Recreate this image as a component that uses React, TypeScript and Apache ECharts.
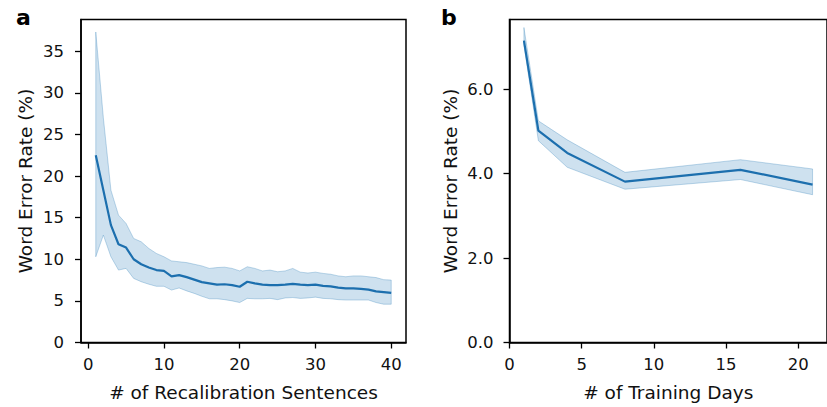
import React, { useEffect, useRef } from "react";
import * as echarts from "echarts";

// Panel a: recalibration sentences
const sentences = [1,2,3,4,5,6,7,8,9,10,11,12,13,14,15,16,17,18,19,20,21,22,23,24,25,26,27,28,29,30,31,32,33,34,35,36,37,38,39,40];
const werA = [22.5,18.3,14.1,11.8,11.4,10.0,9.4,9.0,8.7,8.6,7.95,8.1,7.85,7.55,7.25,7.1,6.95,7.0,6.9,6.7,7.3,7.1,6.95,6.9,6.9,6.95,7.05,6.95,6.9,6.95,6.8,6.75,6.6,6.5,6.5,6.45,6.35,6.15,6.05,5.95];
const upperA = [37.3,27.0,18.3,15.3,14.3,12.5,12.1,11.3,10.7,10.3,9.8,9.7,9.6,9.4,9.2,8.9,9.0,9.05,8.9,8.6,9.1,8.9,8.6,8.7,8.5,8.6,8.9,8.45,8.35,8.45,8.3,8.2,8.0,7.9,8.0,8.0,7.9,7.8,7.55,7.5];
const lowerA = [10.3,12.9,10.3,8.7,8.9,7.7,7.3,7.0,6.75,6.75,6.3,6.55,6.2,5.9,5.55,5.25,5.25,5.15,5.0,4.8,5.3,5.25,5.25,5.3,5.15,5.35,5.4,5.3,5.35,5.45,5.3,5.25,5.15,5.1,5.1,5.1,5.1,4.8,4.6,4.6];

// Panel b: training days
const days = [1, 2, 4, 8, 16, 21];
const werB = [7.15, 5.02, 4.49, 3.81, 4.09, 3.74];
const upperB = [7.46, 5.25, 4.80, 4.03, 4.33, 4.11];
const lowerB = [7.05, 4.78, 4.15, 3.63, 3.86, 3.50];

const xTicksA = [0, 10, 20, 30, 40];
const yTicksA = [0, 5, 10, 15, 20, 25, 30, 35];
const xTicksB = [0, 5, 10, 15, 20];
const yTicksB = [0, 2, 4, 6];

const FONT = "DejaVu Sans";
const LINE = "#1c6fae";
const BAND = "rgba(31,119,180,0.22)";
const BAND_EDGE = "rgba(31,119,180,0.28)";

function bandSeries(xs: number[], lo: number[], hi: number[], mean: number[], idx: number) {
  const data = xs.map((x, i) => [x, lo[i], hi[i]]);
  return [
    {
      type: "custom",
      xAxisIndex: idx,
      yAxisIndex: idx,
      data,
      silent: true,
      z: 1,
      clip: true,
      encode: { x: 0, y: [1, 2] },
      renderItem: (params: any, api: any) => {
        if (params.dataIndex !== 0) return null;
        const top = data.map((d) => api.coord([d[0], d[2]]));
        const bot = data.map((d) => api.coord([d[0], d[1]])).reverse();
        return {
          type: "polygon",
          shape: { points: top.concat(bot) },
          style: { fill: BAND, stroke: BAND_EDGE, lineWidth: 1 },
        };
      },
    },
    {
      type: "line",
      xAxisIndex: idx,
      yAxisIndex: idx,
      data: xs.map((x, i) => [x, mean[i]]),
      symbol: "none",
      lineStyle: { color: LINE, width: 2.2 },
      z: 3,
    },
  ];
}

const axisCommon = {
  axisLine: { show: true, onZero: false, lineStyle: { color: "#000", width: 1.5 } },
  axisTick: { show: true, length: 6, lineStyle: { color: "#000", width: 1.3 } },
  splitLine: { show: false },
  nameTextStyle: { fontFamily: FONT, fontSize: 18.5, color: "#111" },
};

const tickFont = { fontFamily: FONT, fontSize: 16.5, color: "#111" };

export default function App() {
  const ref = useRef<HTMLDivElement>(null);
  useEffect(() => {
    if (!ref.current) return;
    const chart = echarts.init(ref.current, undefined, { renderer: "svg" });
    chart.setOption({
      animation: false,
      backgroundColor: "#fff",
      grid: [
        { left: 81, top: 19.5, width: 325, height: 323, show: true, borderColor: "#000", borderWidth: 1.5, containLabel: false },
        { left: 509.5, top: 19.5, width: 326.5, height: 323, show: true, borderColor: "#000", borderWidth: 1.5, containLabel: false },
      ],
      graphic: [
        { type: "text", left: 16, top: 6, style: { text: "a", fontFamily: FONT, fontWeight: "bold", fontSize: 22, fill: "#000" } },
        { type: "text", left: 441, top: 6, style: { text: "b", fontFamily: FONT, fontWeight: "bold", fontSize: 22, fill: "#000" } },
      ],
      xAxis: [
        {
          ...axisCommon,
          type: "value",
          gridIndex: 0,
          min: -0.95,
          max: 41.95,
          name: "# of Recalibration Sentences",
          nameLocation: "middle",
          nameGap: 40,
          axisTick: { ...axisCommon.axisTick, customValues: xTicksA },
          axisLabel: { ...tickFont, customValues: xTicksA, margin: 13 },
        },
        {
          ...axisCommon,
          type: "value",
          gridIndex: 1,
          min: 0,
          max: 22,
          name: "# of Training Days",
          nameLocation: "middle",
          nameGap: 40,
          axisTick: { ...axisCommon.axisTick, customValues: xTicksB },
          axisLabel: { ...tickFont, customValues: xTicksB, margin: 13 },
        },
      ],
      yAxis: [
        {
          ...axisCommon,
          type: "value",
          gridIndex: 0,
          min: 0,
          max: 38.8,
          name: "Word Error Rate (%)",
          nameLocation: "middle",
          nameGap: 46,
          axisTick: { ...axisCommon.axisTick, customValues: yTicksA },
          axisLabel: { ...tickFont, customValues: yTicksA, margin: 17 },
        },
        {
          ...axisCommon,
          type: "value",
          gridIndex: 1,
          min: 0,
          max: 7.65,
          name: "Word Error Rate (%)",
          nameLocation: "middle",
          nameGap: 50,
          axisTick: { ...axisCommon.axisTick, customValues: yTicksB },
          axisLabel: {
            ...tickFont,
            customValues: yTicksB,
            margin: 16,
            formatter: (v: number) => v.toFixed(1),
          },
        },
      ],
      series: [
        ...bandSeries(sentences, lowerA, upperA, werA, 0),
        ...bandSeries(days, lowerB, upperB, werB, 1),
      ],
    });
    return () => chart.dispose();
  }, []);
  return (
    <div
      ref={ref}
      style={{ position: "fixed", left: 0, top: 0, width: 827, height: 407, background: "#fff" }}
    />
  );
}
